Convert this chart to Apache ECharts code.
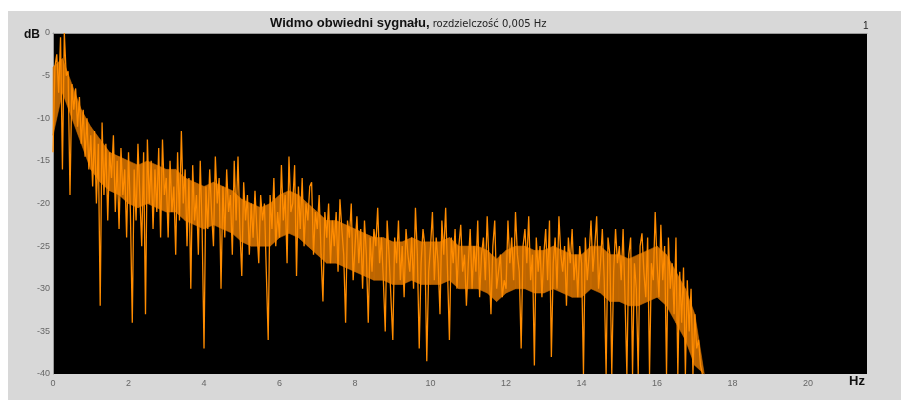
<!DOCTYPE html>
<html>
<head>
<meta charset="utf-8">
<script src="https://cdn.jsdelivr.net/npm/echarts@6/dist/echarts.min.js"></script>
<style>html,body{margin:0;padding:0;background:#fff;}#c{width:901px;height:400px;}</style>
</head>
<body>
<div id="c"></div>
<script>
// Frequency step of the sampled spectrum (Hz) and start
const freqStart = 0;
const freqStep = 0.05;
// Envelope spectrum values (dB), 0.05 Hz apart
const spectrumDb = [
  -14, -4, -2.5, -7, -0.5, -16, 0, -5, -4.5, -19, -6, -9, -6.5, -11, -7.5, -13, -9, -14.5, -10, -16,
  -12, -18, -11.5, -20, -13, -32, -10.5, -19, -13, -22, -14, -17, -12, -21, -15, -23, -13.5, -19, -16, -24,
  -14, -21, -34, -16, -22, -13, -19, -25, -14, -33, -12.5, -20, -15, -23, -16, -21, -13.5, -24, -12.5, -19,
  -17, -24, -15, -21, -18, -26, -14, -22, -11.5, -20, -16, -25, -17, -30, -15.5, -22, -19, -26, -15, -23,
  -37, -18, -23, -16, -21, -25, -14.5, -20, -17, -30, -18, -24, -16, -21, -19, -26, -15, -22, -14.5, -23,
  -28.5, -17.5, -22, -19, -26, -20, -24, -18.5, -23, -27, -19, -22, -20, -28, -36, -19, -23, -17, -25, -21,
  -24, -15.5, -22, -19, -27, -14.5, -21, -20, -15.5, -28.5, -18, -23, -17, -25, -20, -22, -18, -17.5, -26, -21,
  -23, -19, -26, -31.5, -21, -24, -20, -27, -22, -25, -21, -28, -19.5, -23, -26, -34, -22, -24, -20, -29,
  -25, -21.5, -27, -23, -30, -22, -26, -34, -24, -28, -23, -25, -20.5, -27, -24, -29, -35, -22, -26, -31,
  -36, -24, -27, -22, -29, -25, -31, -23, -26, -28, -24, -30, -20.5, -26, -37, -27, -23, -25, -38.5, -28,
  -25, -21, -29, -24, -27, -33, -22, -26, -20.5, -28, -36, -24, -27, -23, -30, -25, -22.5, -28, -26, -32,
  -27, -23, -30, -25, -28, -22, -31, -26, -24, -29, -21.5, -27, -33, -25, -22, -30, -28, -26, -31, -29,
  -30, -22, -27, -24, -29, -21, -26, -28, -37, -25, -23, -27, -21.5, -29, -26, -39, -24, -28, -25, -31,
  -26, -23, -29, -22, -38, -27, -24, -30, -21.5, -26, -28, -25, -32, -24, -27, -23, -29, -26, -31, -25,
  -27, -40, -24, -29, -26, -22, -28, -25, -21.5, -30, -27, -23, -29, -40, -24, -26, -40, -28, -23, -27,
  -25, -29, -23, -31, -40, -26, -24, -40, -27, -30, -40, -25, -23.5, -28, -31, -24, -40, -27, -29, -21,
  -27, -31, -22.5, -29, -25, -40, -24, -30, -27, -33, -24, -40, -28, -34, -27.5, -40, -29, -35, -30, -40,
  -33, -37, -36, -39, -40
];
// Dense core of the spectrum band (dB), 0.25 Hz apart
const bandStep = 0.25;
const bandTopDb = [
  -4, -3, -6, -9, -11, -12.5, -14, -14.5, -15, -15.5, -15, -15.5, -16, -16, -17, -17.5,
  -18, -17.5, -18, -18.5, -19.5, -20, -20.5, -20, -19, -18.5, -19, -20, -21, -22, -22, -22.5,
  -23, -23.5, -24, -24, -24.5, -24.5, -24, -24.5, -24.5, -24.5, -24, -25, -25, -25, -25.5, -26.5,
  -25.5, -25, -25, -25.5, -25.5, -25, -25.5, -26, -26, -25, -25, -26, -26, -26.5, -26, -25.5,
  -25, -26, -28, -30, -33, -40
];
const bandBottomDb = [
  -12, -7, -10, -13, -16, -17.5, -18.5, -19, -20, -20.5, -20, -20.5, -21, -21, -22, -22.5,
  -23, -22.5, -23, -23.5, -24.5, -25, -25, -25, -24, -23.5, -24, -25, -26, -27, -27, -27.5,
  -28, -28.5, -29, -29, -29.5, -29.5, -29, -29.5, -29.5, -29.5, -29, -30, -30, -30, -30.5, -31.5,
  -30.5, -30, -30, -30.5, -30.5, -30, -30.5, -31, -31, -30, -30.5, -31.5, -31.5, -32, -32, -31.5,
  -31, -32, -34, -36, -39, -40
];
const xTickLabels = ['0','2','4','6','8','10','12','14','16','18','20'];
const yTickLabels = ['-40','-35','-30','-25','-20','-15','-10','-5','0'];

const points = spectrumDb.map((v, i) => [+(freqStart + i * freqStep).toFixed(3), v]);
const bandData = bandTopDb.map((v, i) => [+(i * bandStep).toFixed(3), v, bandBottomDb[i]]);

const FONT = '"Liberation Sans", Arial, sans-serif';
const chart = echarts.init(document.getElementById('c'), null, {renderer: 'canvas'});
chart.setOption({
  animation: false,
  backgroundColor: '#ffffff',
  graphic: [
    {type: 'rect', shape: {x: 8, y: 11, width: 893, height: 389}, style: {fill: '#d8d8d8'}, z: -10},
    {type: 'text', left: 24, top: 29, style: {text: 'dB', font: 'bold 12px ' + FONT, fill: '#111'}},
    {type: 'text', left: 849, top: 375, style: {text: 'Hz', font: 'bold 13px ' + FONT, fill: '#111'}},
    {type: 'text', left: 863, top: 21, style: {text: '1', font: '10px ' + FONT, fill: '#222'}}
  ],
  title: {
    left: 265, top: 12,
    text: '{a|Widmo obwiedni sygnału,}{b| rozdzielczość 0,005 Hz}',
    textStyle: {
      rich: {
        a: {fontFamily: FONT, fontWeight: 'bold', fontSize: 13, color: '#111'},
        b: {fontFamily: '"DejaVu Sans", sans-serif', fontWeight: 'normal', fontSize: 10, color: '#222', padding: [2, 0, 0, 0]}
      }
    }
  },
  grid: {left: 53, right: 34, top: 33, bottom: 26, show: true, backgroundColor: '#000000', borderWidth: 0},
  xAxis: {
    type: 'value', min: 0, max: 21.56, interval: 2,
    axisLine: {show: true, lineStyle: {color: '#9a9a9a', width: 1}},
    axisTick: {show: false},
    splitLine: {show: false},
    axisLabel: {
      showMaxLabel: false, margin: 5, fontSize: 9, color: '#666', fontFamily: FONT,
      formatter: v => { const i = Math.round(v / 2); return (Math.abs(v - i * 2) < 1e-6 && xTickLabels[i]) ? xTickLabels[i] : ''; }
    }
  },
  yAxis: {
    type: 'value', min: -40, max: 0, interval: 5,
    axisLine: {show: true, lineStyle: {color: '#9a9a9a', width: 1}},
    axisTick: {show: false},
    splitLine: {show: false},
    axisLabel: {
      margin: 3, fontSize: 9, color: '#666', fontFamily: FONT,
      formatter: v => { const i = Math.round((v + 40) / 5); return yTickLabels[i] || ''; }
    }
  },
  series: [
    {
      type: 'custom',
      data: bandData,
      encode: {x: 0, y: [1, 2]},
      z: 1,
      renderItem: function (params, api) {
        const i = params.dataIndex;
        if (i >= bandData.length - 1) return null;
        const n = bandData[i + 1];
        const p1 = api.coord([api.value(0), api.value(1)]);
        const p2 = api.coord([n[0], n[1]]);
        const p3 = api.coord([n[0], n[2]]);
        const p4 = api.coord([api.value(0), api.value(2)]);
        return {
          type: 'polygon',
          shape: {points: [p1, p2, p3, p4]},
          style: {fill: '#d07000', stroke: '#d07000', lineWidth: 0.6, opacity: 0.9}
        };
      }
    },
    {
      type: 'line', data: points, showSymbol: false, symbol: 'none', clip: true,
      lineStyle: {color: '#ff8c00', width: 1.3}, z: 2
    }
  ]
});
</script>
</body>
</html>
